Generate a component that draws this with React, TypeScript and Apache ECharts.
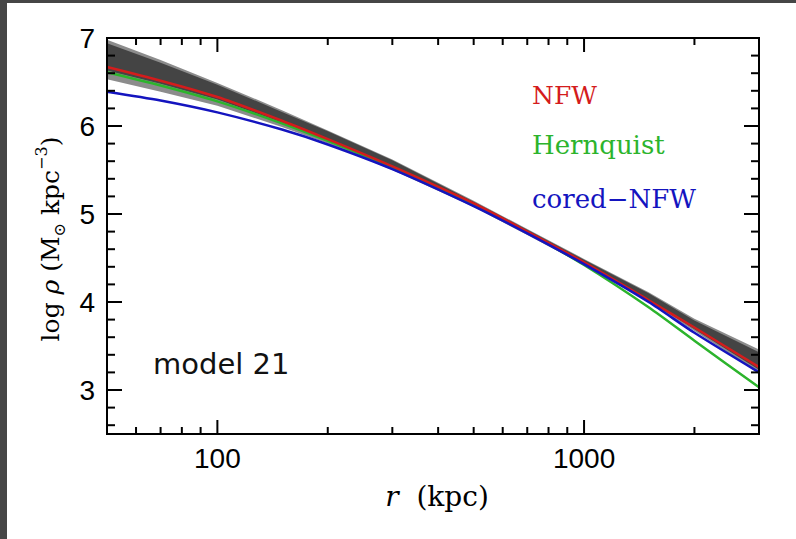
import React, { useEffect, useRef } from "react";
import * as echarts from "echarts";

// radius (kpc) sample points
const radii = [50, 70, 100, 150, 200, 300, 500, 700, 1000, 1500, 2000, 3000];
// log density profiles
const nfw = [6.67, 6.515, 6.33, 6.06, 5.85, 5.54, 5.12, 4.8, 4.45, 4.02, 3.71, 3.26];
const hernquist = [6.61, 6.46, 6.28, 6.03, 5.83, 5.53, 5.11, 4.79, 4.42, 3.94, 3.56, 3.03];
const coredNfw = [6.39, 6.29, 6.155, 5.96, 5.79, 5.51, 5.09, 4.78, 4.43, 4.0, 3.65, 3.2];
// grey envelope of model realisations
const bandUpper = [6.98, 6.75, 6.49, 6.18, 5.95, 5.62, 5.15, 4.83, 4.49, 4.11, 3.81, 3.46];
const bandLower = [6.53, 6.39, 6.23, 5.99, 5.8, 5.5, 5.08, 4.76, 4.42, 4.0, 3.67, 3.2];
const coreUpper = [6.94, 6.72, 6.47, 6.16, 5.94, 5.61, 5.14, 4.82, 4.48, 4.1, 3.79, 3.43];
const coreLower = [6.63, 6.48, 6.3, 6.04, 5.83, 5.53, 5.11, 4.79, 4.44, 4.02, 3.69, 3.23];
// ticks
const xLabels = [100, 1000];
const xMajorTicks = [100, 1000];
const xMinorTicks = [60, 70, 80, 90, 200, 300, 400, 500, 600, 700, 800, 900, 2000];
const yMajorTicks = [3, 4, 5, 6, 7];
const yMinorTicks = [2.6, 2.8, 3.2, 3.4, 3.6, 3.8, 4.2, 4.4, 4.6, 4.8, 5.2, 5.4, 5.6, 5.8, 6.2, 6.4, 6.6, 6.8];

const X_MIN = 50;
const X_MAX = 3000;
const Y_MIN = 2.5;
const Y_MAX = 7;

function xTickRender(len: number) {
  return (params: any, api: any) => {
    const cs = params.coordSys;
    const px = api.coord([api.value(0), api.value(1)])[0];
    const st = { stroke: "#000", lineWidth: 2 };
    return {
      type: "group",
      children: [
        { type: "line", shape: { x1: px, y1: cs.y + cs.height, x2: px, y2: cs.y + cs.height - len }, style: st },
        { type: "line", shape: { x1: px, y1: cs.y, x2: px, y2: cs.y + len }, style: st },
      ],
    };
  };
}

function yTickRender(len: number) {
  return (params: any, api: any) => {
    const cs = params.coordSys;
    const py = api.coord([api.value(0), api.value(1)])[1];
    const st = { stroke: "#000", lineWidth: 2 };
    return {
      type: "group",
      children: [
        { type: "line", shape: { x1: cs.x, y1: py, x2: cs.x + len, y2: py }, style: st },
        { type: "line", shape: { x1: cs.x + cs.width, y1: py, x2: cs.x + cs.width - len, y2: py }, style: st },
      ],
    };
  };
}

function bandRender(upper: number[], lower: number[], color: string) {
  return (params: any, api: any) => {
    if (params.dataIndex !== 0) return null;
    const pts: number[][] = [];
    radii.forEach((r, i) => pts.push(api.coord([r, upper[i]])));
    for (let i = radii.length - 1; i >= 0; i--) pts.push(api.coord([radii[i], lower[i]]));
    return {
      type: "polygon",
      shape: { points: pts },
      style: { fill: color },
    };
  };
}

export default function App() {
  const ref = useRef<HTMLDivElement>(null);
  useEffect(() => {
    if (!ref.current) return;
    const chart = echarts.init(ref.current, undefined, { renderer: "svg" });
    const serif = "DejaVu Serif";
    const lineSeries = (name: string, vals: number[], color: string) => ({
      type: "line",
      name,
      data: radii.map((r, i) => [r, vals[i]]),
      showSymbol: false,
      smooth: 0.25,
      lineStyle: { color, width: 2.5 },
      z: 5,
    });
    chart.setOption({
      animation: false,
      backgroundColor: "#fff",
      grid: {
        left: 107,
        right: 37,
        top: 38,
        bottom: 105,
        show: true,
        borderColor: "#000",
        borderWidth: 2,
        backgroundColor: "transparent",
        z: 10,
      },
      xAxis: {
        type: "log",
        logBase: 10,
        min: X_MIN,
        max: X_MAX,
        axisLine: { show: false },
        axisTick: { show: false },
        splitLine: { show: false },
        axisLabel: {
          showMinLabel: false,
          showMaxLabel: false,
          margin: 10,
          color: "#000",
          fontSize: 28,
          fontFamily: "Liberation Sans",
          formatter: (v: number) => {
            const hit = xLabels.find((t) => Math.abs(t - v) / t < 1e-6);
            return hit ? String(hit) : "";
          },
        },
      },
      yAxis: {
        type: "value",
        min: Y_MIN,
        max: Y_MAX,
        interval: 0.5,
        axisLine: { show: false },
        axisTick: { show: false },
        splitLine: { show: false },
        axisLabel: {
          margin: 12,
          color: "#000",
          fontSize: 28,
          fontFamily: "Liberation Sans",
          formatter: (v: number) => {
            const hit = yMajorTicks.find((t) => Math.abs(t - v) < 1e-6);
            return hit !== undefined ? String(hit) : "";
          },
        },
      },
      series: [
        {
          type: "custom",
          renderItem: bandRender(bandUpper, bandLower, "#8c8c8c"),
          data: radii.map((r, i) => [r, bandUpper[i]]),
          z: 2,
          silent: true,
        },
        {
          type: "custom",
          renderItem: bandRender(coreUpper, coreLower, "#444444"),
          data: radii.map((r, i) => [r, coreUpper[i]]),
          z: 3,
          silent: true,
        },
        lineSeries("Hernquist", hernquist, "#2cb42c"),
        lineSeries("NFW", nfw, "#d41c1c"),
        lineSeries("cored-NFW", coredNfw, "#1414bf"),
        {
          type: "custom",
          renderItem: xTickRender(14),
          data: xMajorTicks.map((v) => [v, 5]),
          z: 12,
          silent: true,
        },
        {
          type: "custom",
          renderItem: xTickRender(7),
          data: xMinorTicks.map((v) => [v, 5]),
          z: 12,
          silent: true,
        },
        {
          type: "custom",
          renderItem: yTickRender(15),
          data: yMajorTicks.map((v) => [100, v]),
          z: 12,
          silent: true,
        },
        {
          type: "custom",
          renderItem: yTickRender(8),
          data: yMinorTicks.map((v) => [100, v]),
          z: 12,
          silent: true,
        },
      ],
      graphic: [
        { type: "rect", left: 0, top: 0, shape: { width: 796, height: 3 }, style: { fill: "#464646" } },
        { type: "rect", left: 0, top: 0, shape: { width: 7, height: 539 }, style: { fill: "#464646" } },
        {
          type: "text",
          left: 532,
          top: 83,
          style: { text: "NFW", fill: "#d41c1c", font: `25px "${serif}"` },
        },
        {
          type: "text",
          left: 532,
          top: 132,
          style: { text: "Hernquist", fill: "#2cb42c", font: `26px "${serif}"` },
        },
        {
          type: "text",
          left: 532,
          top: 186,
          style: { text: "cored\u2212NFW", fill: "#1414bf", font: `26px "${serif}"` },
        },
        {
          type: "text",
          left: 153,
          top: 349,
          style: { text: "model 21", fill: "#111", font: `29px "DejaVu Sans"` },
        },
        {
          type: "text",
          x: 437,
          y: 496,
          style: {
            text: "{i|r}{n|  (kpc)}",
            align: "center",
            verticalAlign: "middle",
            rich: {
              i: { fontFamily: serif, fontStyle: "italic", fontSize: 28, fill: "#000" },
              n: { fontFamily: serif, fontSize: 28, fill: "#000" },
            },
          },
        },
        {
          type: "text",
          x: 50,
          y: 239,
          rotation: Math.PI / 2,
          style: {
            text: "{n|log }{i|\u03c1}{n| (M}{sub|\u2299}{n| kpc}{sup|\u22123}{n|)}",
            align: "center",
            verticalAlign: "middle",
            rich: {
              n: { fontFamily: serif, fontSize: 25, lineHeight: 34, fill: "#000" },
              i: { fontFamily: serif, fontStyle: "italic", fontSize: 25, lineHeight: 34, fill: "#000" },
              sub: { fontFamily: serif, fontSize: 16, lineHeight: 34, verticalAlign: "bottom", fill: "#000" },
              sup: { fontFamily: serif, fontSize: 16, lineHeight: 34, verticalAlign: "top", fill: "#000" },
            },
          },
        },
      ],
    });
    return () => chart.dispose();
  }, []);
  return (
    <div
      ref={ref}
      style={{ position: "fixed", left: 0, top: 0, width: 796, height: 539 }}
    />
  );
}
